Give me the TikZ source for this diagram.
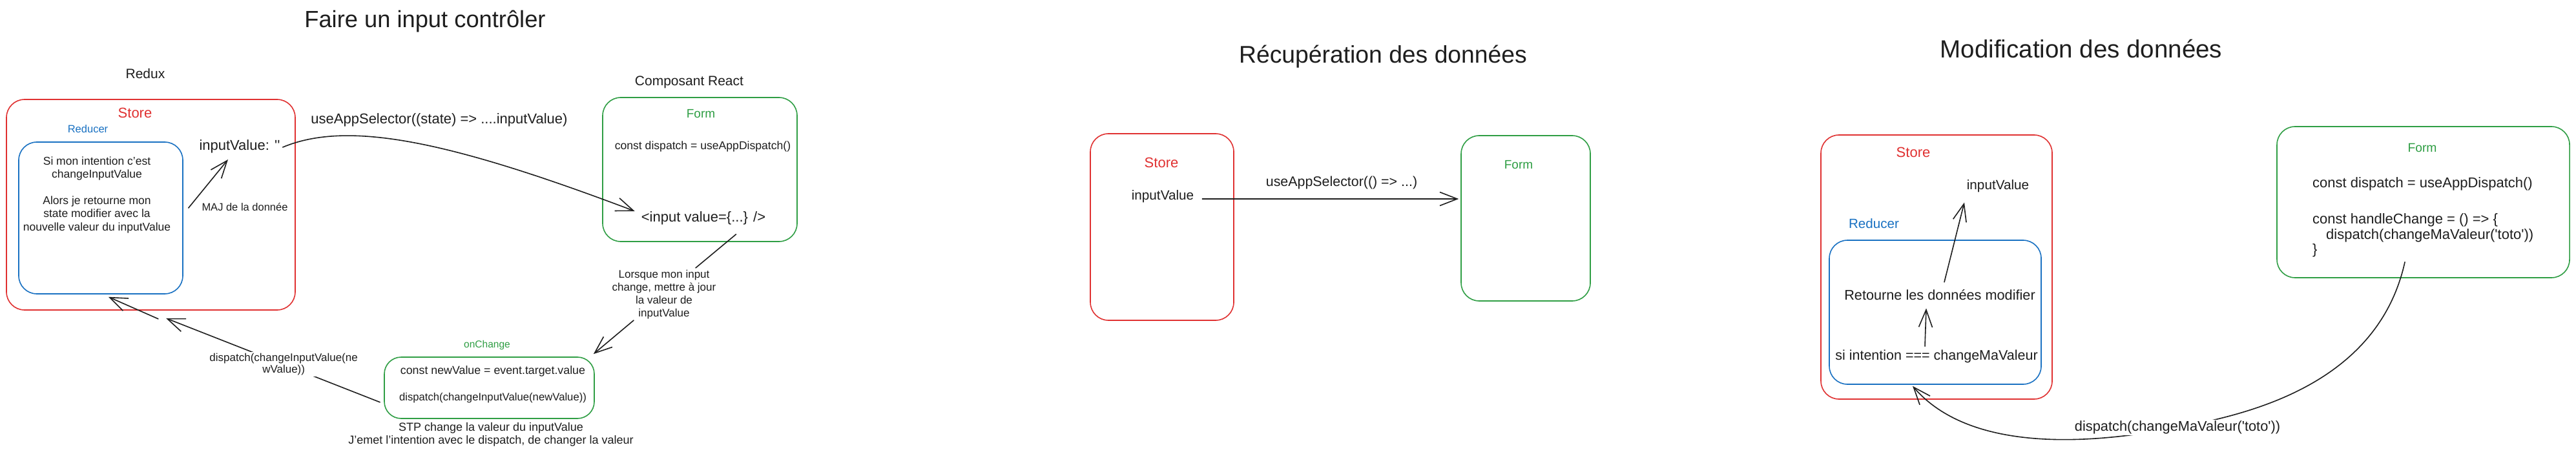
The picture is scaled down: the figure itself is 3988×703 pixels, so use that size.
\documentclass[tikz,border=0pt]{standalone}
\usepackage{fontspec}
\setmainfont{Liberation Sans}
\usetikzlibrary{arrows.meta,calc}
\definecolor{exred}{HTML}{E03131}
\definecolor{exgreen}{HTML}{2F9E44}
\definecolor{exblue}{HTML}{1971C2}
\definecolor{exink}{HTML}{1E1E1E}
\newcommand\fsz[2]{\fontsize{#1}{#2}\selectfont}
\tikzset{
  boxbase/.style={draw, line width=1.6pt, rounded corners=28pt, inner sep=0pt},
  redbox/.style={boxbase, draw=exred},
  greenbox/.style={boxbase, draw=exgreen},
  bluebox/.style={boxbase, draw=exblue},
  lbl/.style={inner sep=0pt, anchor=base, text=exink},
  txt/.style={inner sep=0pt, text=exink},
  arr/.style={draw=exink, line width=1.6pt, line cap=round, -{Straight Barb[length=27pt,width=21pt]}},
  ln/.style={draw=exink, line width=1.6pt, line cap=round},
  onlbl/.style={fill=white, inner sep=2pt, text=exink, align=center}
}
\begin{document}
\begin{tikzpicture}[x=1pt,y=-1pt]
\useasboundingbox (0,0) rectangle (3988,703);
\fill[white] (0,0) rectangle (3988,703);

% ---------------- Diagram 1 : Faire un input controler
\node[lbl, font=\fsz{36.3}{44}] (title1) at (658,43) {Faire un input contrôler};
\node[lbl, font=\fsz{21}{25}] (redux) at (225,122) {Redux};
\node[redbox, minimum width=447pt, minimum height=326pt] (store1box) at (233.5,317) {};
\node[lbl, text=exred, font=\fsz{22}{26}] (store1lbl) at (209,183) {Store};
\node[lbl, text=exblue, font=\fsz{16.5}{20}] (reducer1lbl) at (136,206) {Reducer};
\node[bluebox, minimum width=254pt, minimum height=235pt] (reducer1box) at (156,337.5) {};
\node[txt, anchor=north, align=center, font=\fsz{17.5}{20.4}] (reducer1txt) at (150,242.4)
  {Si mon intention c'est\\changeInputValue\\[20.4pt]Alors je retourne mon\\state modifier avec la\\nouvelle valeur du inputValue};
\node[lbl, font=\fsz{22}{26}] (inputval1) at (371,233) {inputValue: \textquotesingle\textquotesingle};
\node[lbl, font=\fsz{16.5}{20}] (maj1) at (379,326) {MAJ de la donnée};
\draw[arr] ($(reducer1box.east)+(8,-15.5)$) -- ($(inputval1.base)+(-18,14)$);

\node[lbl, font=\fsz{22}{26}] (sel1) at (680,192) {useAppSelector((state) => ....inputValue)};

\node[lbl, font=\fsz{21}{25}] (compreact) at (1067,133) {Composant React};
\node[greenbox, minimum width=301pt, minimum height=223pt] (form1box) at (1083.5,262.5) {};
\node[lbl, text=exgreen, font=\fsz{19}{23}] (form1lbl) at (1085,183) {Form};
\node[lbl, font=\fsz{17.6}{21}] (constd1) at (1088,232) {const dispatch = useAppDispatch()};
\node[lbl, font=\fsz{22}{26}] (input1) at (1089,343) {<input value=\{...\} />};

\draw[arr] ($(inputval1.base east)+(4,-5)$) .. controls (540,185) and (700,220) .. ($(input1.base west)+(-10,-16)$);

\node[txt, anchor=north, align=center, font=\fsz{17}{20}] (lorsque) at (1028,417.8)
  {Lorsque mon input\\change, mettre à jour\\la valeur de\\inputValue};
\draw[ln] ($(form1box.south)+(56,-12)$) -- ($(lorsque.north)+(49,-3)$);

\node[greenbox, minimum width=325pt, minimum height=95pt, rounded corners=26pt] (onchbox) at (757.5,600.5) {};
\node[lbl, text=exgreen, font=\fsz{15.5}{19}] (onchlbl) at (754,538) {onChange};
\node[lbl, font=\fsz{17.8}{21}] (newval) at (763,579) {const newValue = event.target.value};
\node[lbl, font=\fsz{16.7}{21}] (dispnew) at (763,620) {dispatch(changeInputValue(newValue))};
\node[txt, anchor=north, align=center, font=\fsz{18}{20}] (stp) at (760,654.4)
  {STP change la valeur du inputValue\\J'emet l'intention avec le dispatch, de changer la valeur};
\draw[arr] ($(lorsque.south)+(-47,2)$) -- ($(onchbox.north east)+(-2,-4)$);

\draw[arr] ($(onchbox.south west)+(-6,-26)$) --
  node[onlbl, pos=0.45, font=\fsz{17}{18.5}] (disp1lbl) {dispatch(changeInputValue(ne\\wValue))}
  ($(store1box.south)+(23.5,12)$);
\draw[arr] ($(store1box.south)+(11.5,13)$) -- ($(reducer1box.south)+(12,4)$);

% ---------------- Diagram 2 : Recuperation des donnees
\node[lbl, font=\fsz{37.3}{45}] (title2) at (2141,98) {Récupération des données};
\node[redbox, minimum width=222pt, minimum height=289pt] (store2box) at (1799,351.5) {};
\node[lbl, text=exred, font=\fsz{22}{26}] (store2lbl) at (1798,260) {Store};
\node[lbl, font=\fsz{20.7}{25}] (inputval2) at (1800,309) {inputValue};
\node[greenbox, minimum width=200pt, minimum height=256pt] (form2box) at (2362,338) {};
\node[lbl, text=exgreen, font=\fsz{19}{23}] (form2lbl) at (2351,262) {Form};
\node[lbl, font=\fsz{21.4}{25}] (sel2) at (2077,288) {useAppSelector(() => ...)};
\draw[arr] ($(inputval2.base east)+(13,-1)$) -- ($(form2box.west |- inputval2.base)+(-3,-1)$);

% ---------------- Diagram 3 : Modification des donnees
\node[lbl, font=\fsz{38.5}{46}] (title3) at (3222,90) {Modification des données};
\node[redbox, minimum width=358pt, minimum height=409pt] (store3box) at (2998,413.5) {};
\node[lbl, text=exred, font=\fsz{22}{26}] (store3lbl) at (2962,244) {Store};
\node[lbl, font=\fsz{20.7}{25}] (inputval3) at (3093,294) {inputValue};
\node[lbl, text=exblue, font=\fsz{20.6}{25}] (reducer3lbl) at (2901,353) {Reducer};
\node[bluebox, minimum width=328pt, minimum height=223pt] (reducer3box) at (2996,483.5) {};
\node[lbl, font=\fsz{21.7}{26}] (ret3) at (3003,464) {Retourne les données modifier};
\node[lbl, font=\fsz{21.5}{26}] (si3) at (2998,557) {si intention === changeMaValeur};
\draw[arr] ($(si3.north)+(-18,-5)$) -- ($(ret3.south)+(-21,13)$);
\draw[arr] ($(ret3.north)+(7,-11)$) -- ($(inputval3.south)+(-52,15)$);

\node[greenbox, minimum width=453pt, minimum height=234pt] (form3box) at (3751.5,313) {};
\node[lbl, text=exgreen, font=\fsz{19.3}{23}] (form3lbl) at (3750,236) {Form};
\node[txt, anchor=north west, align=left, font=\fsz{22}{23.5}] (code3) at (3580,274.2)
  {const dispatch = useAppDispatch()\\[33pt]const handleChange = () => \{\\\hspace*{21pt}dispatch(changeMaValeur(\textquotesingle toto\textquotesingle))\\\}};

\draw[arr] ($(form3box.south)+(-28.5,-25)$) .. controls (3680,600) and (3471,643) .. (3371,662)
  node[onlbl, font=\fsz{21.8}{26}] (disp3lbl) {dispatch(changeMaValeur(\textquotesingle toto\textquotesingle))}
  .. controls (3200,695) and (3040,690) .. ($(reducer3box.south)+(-35,2)$);
\end{tikzpicture}
\end{document}
